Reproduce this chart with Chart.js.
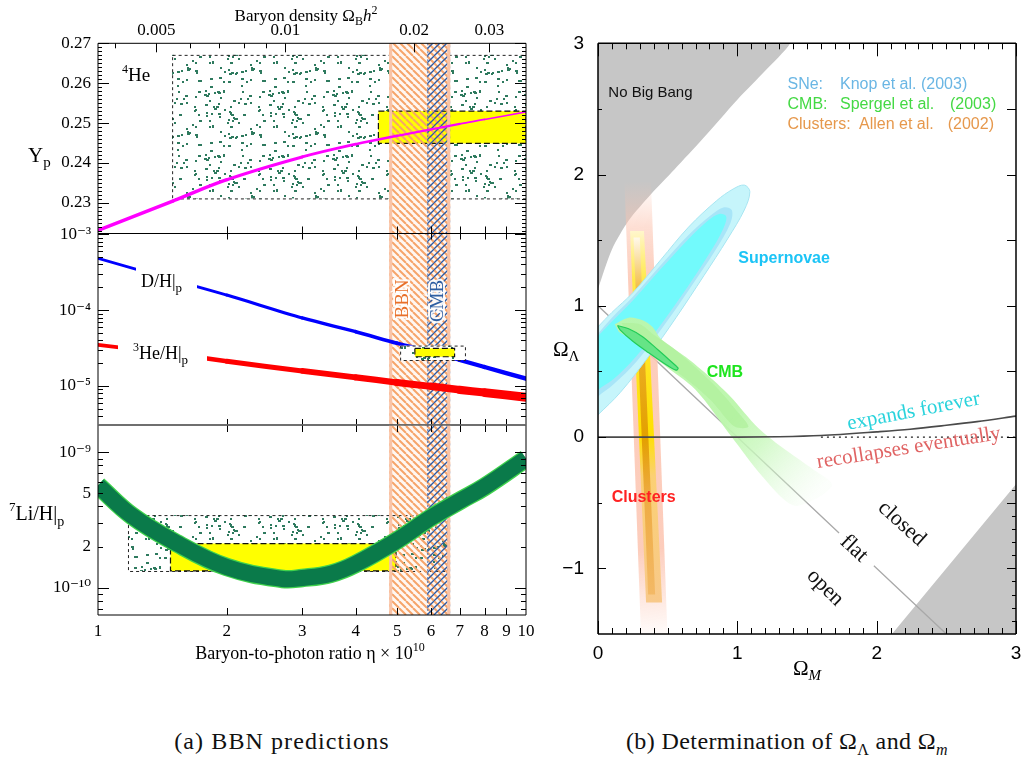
<!DOCTYPE html>
<html>
<head>
<meta charset="utf-8">
<title>BBN predictions and Omega_Lambda / Omega_m</title>
<script src="https://cdn.jsdelivr.net/npm/chart.js@4.4.1/dist/chart.umd.min.js"></script>
<style>
  body { margin: 0; background: #fff; }
  #page { position: relative; width: 1021px; height: 765px; overflow: hidden; background: #fff; }
  #page canvas { position: absolute; }
  .caption { position: absolute; top: 728px; transform: translateX(-50%); white-space: nowrap;
             font-family: "Liberation Serif", "DejaVu Serif", serif; font-size: 24px; color: #111; }
  .caption sub { font-size: 16px; }
</style>
</head>
<body>
<div id="page">
  <canvas id="heChart" width="540" height="236" style="left:0;top:0"></canvas>
  <canvas id="dhChart" width="540" height="212" style="left:0;top:221px"></canvas>
  <canvas id="liChart" width="540" height="270" style="left:0;top:412px"></canvas>
  <canvas id="omChart" width="481" height="700" style="left:540px;top:0"></canvas>
  <div class="caption" style="left:282px;letter-spacing:1.1px">(a) BBN predictions</div>
  <div class="caption" style="left:787px;letter-spacing:0.4px">(b) Determination of &Omega;<sub>&Lambda;</sub> and &Omega;<sub><i>m</i></sub></div>
</div>
<script>
// ---------- (a) light element abundances vs baryon-to-photon ratio ----------
const etaGrid     = [1, 1.5, 2, 3, 4, 5, 6, 7, 8, 10];
const heliumYp    = [0.2231, 0.2305, 0.2358, 0.2415, 0.2447, 0.2468, 0.2484, 0.2498, 0.2509, 0.2528];
const deuteriumDH = [4.83e-4, 2.5e-4, 1.58e-4, 7.9e-5, 5.2e-5, 3.66e-5, 2.83e-5, 2.2e-5, 1.78e-5, 1.25e-5];
const helium3H    = [3.49e-5, 2.65e-5, 2.12e-5, 1.58e-5, 1.3e-5, 1.11e-5, 9.9e-6, 8.9e-6, 8.2e-6, 7.1e-6];
const lithiumEta  = [1, 1.2, 1.5, 2, 2.7, 3, 3.5, 4, 5, 6, 7, 8, 10];
const lithium7H   = [5.7e-10, 3.4e-10, 2.2e-10, 1.42e-10, 1.16e-10, 1.18e-10, 1.27e-10, 1.5e-10, 2.24e-10, 3.3e-10, 4.38e-10, 5.56e-10, 9.0e-10];

const bbnBand = [4.79, 6.65];
const cmbBand = [5.88, 6.65];

// observed ranges (eta range, abundance range)
const heObsEta  = [1.49, 10],   heObsY  = [0.2311, 0.2671];
const heBestEta = [4.52, 10],   heBestY = [0.2449, 0.2530];
const dhObsEta  = [5.08, 7.2],  dhObsY  = [2.2e-5, 3.41e-5];
const dhBestEta = [5.5, 6.81],  dhBestY = [2.43e-5, 3.14e-5];
const liObsEta  = [1.175, 6.55], liObsY  = [1.33e-10, 3.44e-10];
const liBestEta = [1.477, 4.97], liBestY = [1.33e-10, 2.12e-10];

const etaTicks    = [1, 2, 3, 4, 5, 6, 7, 8, 9, 10];
const omegaBTicks = [0.005, 0.01, 0.02, 0.03];
const omegaBMinor = [0.004, 0.006, 0.007, 0.008, 0.009];
const ETA_PER_OMEGA_B = 273.9;   // eta_10 = 273.9 * Omega_B h^2
const ypTicks  = [0.23, 0.24, 0.25, 0.26, 0.27];
const dhTicks  = [1e-3, 1e-4, 1e-5];
const liTicks  = [1e-9, 5e-10, 2e-10, 1e-10];

// ---------- (b) Omega_M - Omega_Lambda plane ----------
const noBigBangM  = [0, 0.1, 0.22, 0.38, 0.55, 0.75, 1.0, 1.2, 1.38];
const noBigBangL  = [1.13, 1.43, 1.65, 1.85, 2.04, 2.27, 2.57, 2.79, 3.0];
const recollapseM = [2.11, 3.0];
const recollapseL = [-1.5, -0.36];
const flatM       = [0, 1.73, 1.85, 1.98, 2.5];
const flatL       = [1, -0.73, null, -0.98, -1.5];
const expandM     = [0, 1, 1.3, 1.6, 2, 2.24, 2.5, 2.72, 3];
const expandL     = [0, 0, 0.003, 0.012, 0.04, 0.06, 0.09, 0.118, 0.16];
const dottedZeroM = [1.6, 3];
const dottedZeroL = [0, 0];

const sneOuter = [[-0.25,0.5],[-0.05,0.78],[0,0.84],[0.1,0.95],[0.25,1.10],[0.45,1.35],[0.65,1.60],[0.85,1.80],[0.97,1.89],[1.05,1.92],[1.09,1.87],[1.05,1.73],[0.93,1.51],[0.76,1.23],[0.56,0.91],[0.36,0.61],[0.16,0.34],[0.0,0.17],[-0.15,0.02],[-0.3,0.1]];
const sneMid   = [[-0.25,0.5],[-0.05,0.74],[0,0.79],[0.1,0.91],[0.25,1.07],[0.45,1.31],[0.65,1.54],[0.81,1.69],[0.9,1.75],[0.96,1.73],[0.95,1.63],[0.84,1.42],[0.67,1.15],[0.48,0.86],[0.28,0.58],[0.11,0.40],[0.0,0.31],[-0.15,0.17],[-0.3,0.2]];
const sneInner = [[-0.25,0.5],[-0.05,0.72],[0,0.77],[0.1,0.88],[0.25,1.04],[0.45,1.28],[0.65,1.51],[0.79,1.65],[0.87,1.70],[0.92,1.68],[0.90,1.59],[0.80,1.40],[0.64,1.14],[0.46,0.87],[0.27,0.61],[0.11,0.44],[0.0,0.36],[-0.15,0.22],[-0.3,0.25]];
const cmbOuter = [[0.12,0.86],[0.22,0.91],[0.32,0.89],[0.39,0.84],[0.45,0.75],[0.63,0.61],[0.80,0.46],[0.95,0.31],[1.15,0.07],[1.35,-0.10],[1.55,-0.25],[1.68,-0.36],[1.58,-0.46],[1.40,-0.52],[1.18,-0.30],[0.96,0.0],[0.70,0.36],[0.46,0.56],[0.29,0.71],[0.15,0.80]];
const cmbMid   = [[0.17,0.87],[0.3,0.86],[0.4,0.78],[0.55,0.67],[0.7,0.53],[0.85,0.38],[0.98,0.22],[1.08,0.08],[0.98,0.08],[0.82,0.27],[0.66,0.42],[0.5,0.55],[0.33,0.69],[0.2,0.80]];
const cmbCore  = [[0.14,0.85],[0.22,0.825],[0.32,0.765],[0.43,0.665],[0.52,0.58],[0.575,0.525],[0.56,0.51],[0.47,0.565],[0.36,0.645],[0.25,0.73],[0.16,0.815],[0.14,0.85]];
const clusterOuter = [[0.19,1.95],[0.38,1.95],[0.50,-1.55],[0.31,-1.55]];
const clusterMid   = [[0.23,1.57],[0.33,1.57],[0.46,-1.26],[0.345,-1.26]];
const clusterCore  = [[0.255,1.52],[0.30,1.52],[0.41,-1.2],[0.36,-1.2]];

const SERIF = '"Liberation Serif", "DejaVu Serif", serif';
const SANS  = '"Liberation Sans", Arial, sans-serif';

const pts   = (xs, ys) => xs.map((x, i) => ({ x, y: ys[i] }));
const pairs = list => list.map(([x, y]) => ({ x, y }));

// ---- textures for the hatched bands and the dotted observation boxes
function stripeTile(color, width, step, rising) {
  const c = document.createElement('canvas');
  c.width = c.height = step;
  const g = c.getContext('2d');
  g.strokeStyle = color; g.lineWidth = width;
  for (let k = -1; k <= 1; k++) {
    g.beginPath();
    if (rising) { g.moveTo(k * step, step); g.lineTo(k * step + step, 0); }
    else { g.moveTo(k * step, 0); g.lineTo(k * step + step, step); }
    g.stroke();
  }
  return c;
}
function dotTile() {
  const c = document.createElement('canvas');
  c.width = c.height = 64;
  const g = c.getContext('2d');
  g.fillStyle = '#2e7a5e';
  let s = 4711;
  const next = () => (s = (s * 16807) % 2147483647) / 2147483647;
  for (let i = 0; i < 85; i++) {
    const x = Math.floor(next() * 63), y = Math.floor(next() * 63);
    g.fillRect(x, y, next() < 0.3 ? 3 : 2, 2);
  }
  return c;
}
const TEX = {
  orange: stripeTile('#f6a46a', 2, 7, false),
  blue: stripeTile('#2c5ba5', 1.3, 7, true),
  dots: dotTile()
};

// text with sub/superscripts, parts drawn one after another
function richText(ctx, x, y, parts, align = 'left') {
  ctx.save();
  ctx.textBaseline = 'alphabetic';
  ctx.textAlign = 'left';
  let w = 0;
  const items = parts.map(p => {
    const font = (p.italic ? 'italic ' : '') + (p.bold ? 'bold ' : '') + p.size + 'px ' + (p.family || SERIF);
    ctx.font = font;
    const m = ctx.measureText(p.t).width;
    w += m;
    return Object.assign({}, p, { font, m });
  });
  let cx = align === 'center' ? x - w / 2 : align === 'right' ? x - w : x;
  const x0 = cx;
  items.forEach(it => {
    ctx.font = it.font;
    ctx.fillStyle = it.color || '#000';
    ctx.fillText(it.t, cx, y + (it.dy || 0));
    cx += it.m;
  });
  ctx.restore();
  return { x: x0, w };
}
// page coordinates -> canvas coordinates
function local(chart, x, y) {
  return [x - chart.canvas.offsetLeft, y - chart.canvas.offsetTop];
}

function fixedAxis(size) {
  return s => {
    if (s.isHorizontal()) s.height = size; else s.width = size;
    s.paddingLeft = s.paddingRight = s.paddingTop = s.paddingBottom = 0;
  };
}
const tickSet = values => s => { s.ticks = values.map(v => ({ value: v })); };

const SUP = { '0': '\u2070', '1': '\u00b9', '2': '\u00b2', '3': '\u00b3', '4': '\u2074', '5': '\u2075', '6': '\u2076', '7': '\u2077', '8': '\u2078', '9': '\u2079', '-': '\u207b' };
function powLabel(v) {
  const e = Math.floor(Math.log10(v) + 1e-9);
  const m = Math.round(v / Math.pow(10, e));
  if (m === 1) return '10' + String(e).split('').map(ch => SUP[ch]).join('');
  return String(m);
}
function logMinors(lo, hi) {
  const out = [];
  for (let e = Math.floor(Math.log10(lo)); e <= Math.ceil(Math.log10(hi)); e++) {
    for (let m = 2; m <= 9; m++) {
      const v = m * Math.pow(10, e);
      if (v > lo && v < hi) out.push(v);
    }
  }
  return out;
}

// inward tick marks plus the frame, drawn over the data
function framePlugin(name, marks, edges) {
  return {
    id: 'frame_' + name,
    afterDatasetsDraw(chart) {
      const { ctx, chartArea: a } = chart;
      ctx.save();
      ctx.lineWidth = 1;
      ctx.strokeStyle = '#000';
      marks.forEach(m => {
        const sc = chart.scales[m.scale];
        m.values.forEach(v => {
          const p = Math.round(sc.getPixelForValue(v)) + 0.5;
          m.sides.forEach(side => {
            ctx.beginPath();
            if (side === 'left') { ctx.moveTo(a.left, p); ctx.lineTo(a.left + m.len, p); }
            if (side === 'right') { ctx.moveTo(a.right, p); ctx.lineTo(a.right - m.len, p); }
            if (side === 'top') { ctx.moveTo(p, a.top); ctx.lineTo(p, a.top + m.len); }
            if (side === 'bottom') { ctx.moveTo(p, a.bottom); ctx.lineTo(p, a.bottom - m.len); }
            ctx.stroke();
          });
        });
      });
      edges.forEach(e => {
        ctx.strokeStyle = e.color;
        ctx.lineWidth = e.width;
        ctx.beginPath();
        if (e.side === 'top') { ctx.moveTo(a.left, a.top); ctx.lineTo(a.right, a.top); }
        if (e.side === 'bottom') { ctx.moveTo(a.left, a.bottom); ctx.lineTo(a.right, a.bottom); }
        if (e.side === 'left') { ctx.moveTo(a.left, a.top); ctx.lineTo(a.left, a.bottom); }
        if (e.side === 'right') { ctx.moveTo(a.right, a.top); ctx.lineTo(a.right, a.bottom); }
        ctx.stroke();
      });
      ctx.restore();
    }
  };
}

// ---- BBN panel helpers
function boxPx(chart, xs, ys) {
  const sx = chart.scales.x, sy = chart.scales.y;
  const x0 = sx.getPixelForValue(xs[0]), x1 = sx.getPixelForValue(xs[1]);
  const y0 = sy.getPixelForValue(ys[1]), y1 = sy.getPixelForValue(ys[0]);
  return { x: x0, y: y0, w: x1 - x0, h: y1 - y0 };
}
function clipArea(chart) {
  const a = chart.chartArea;
  chart.ctx.beginPath();
  chart.ctx.rect(a.left, a.top, a.right - a.left, a.bottom - a.top);
  chart.ctx.clip();
}
function drawDotBox(chart, xs, ys, opaque) {
  const ctx = chart.ctx, r = boxPx(chart, xs, ys);
  ctx.save();
  clipArea(chart);
  if (opaque) { ctx.fillStyle = '#fff'; ctx.fillRect(r.x, r.y, r.w, r.h); }
  ctx.fillStyle = ctx.createPattern(TEX.dots, 'repeat');
  ctx.fillRect(r.x, r.y, r.w, r.h);
  ctx.setLineDash([3, 3]);
  ctx.strokeStyle = '#222';
  ctx.lineWidth = 1;
  ctx.strokeRect(r.x + 0.5, r.y + 0.5, r.w, r.h);
  ctx.restore();
}
function drawYellowBox(chart, xs, ys) {
  const ctx = chart.ctx, r = boxPx(chart, xs, ys);
  ctx.save();
  clipArea(chart);
  ctx.fillStyle = '#ffff00';
  ctx.fillRect(r.x, r.y, r.w, r.h);
  ctx.setLineDash([6, 3]);
  ctx.strokeStyle = '#111';
  ctx.lineWidth = 1.2;
  ctx.strokeRect(r.x, r.y, r.w, r.h);
  ctx.restore();
}
function bandEdges(chart, range) {
  const sx = chart.scales.x;
  return [sx.getPixelForValue(range[0]), sx.getPixelForValue(range[1])];
}
function drawBandBg(chart) {
  const { ctx, chartArea: a } = chart;
  const [b0, b1] = bandEdges(chart, bbnBand);
  ctx.save();
  ctx.fillStyle = '#fff7f2';
  ctx.fillRect(b0, a.top, b1 - b0, a.bottom - a.top);
  ctx.restore();
}
function drawBandStripes(chart) {
  const { ctx, chartArea: a } = chart;
  const [b0, b1] = bandEdges(chart, bbnBand);
  const [c0, c1] = bandEdges(chart, cmbBand);
  const h = a.bottom - a.top;
  ctx.save();
  clipArea(chart);
  ctx.fillStyle = ctx.createPattern(TEX.orange, 'repeat');
  ctx.fillRect(b0, a.top, b1 - b0, h);
  ctx.fillStyle = ctx.createPattern(TEX.blue, 'repeat');
  ctx.fillRect(c0, a.top, c1 - c0, h);
  ctx.strokeStyle = '#f9c3a6';
  ctx.lineWidth = 3;
  [b0 + 1.5, b1 - 1.5].forEach(x => {
    ctx.beginPath(); ctx.moveTo(x, a.top); ctx.lineTo(x, a.bottom); ctx.stroke();
  });
  ctx.strokeStyle = '#4a70b0';
  ctx.lineWidth = 1;
  ctx.setLineDash([2, 2]);
  ctx.beginPath(); ctx.moveTo(c0 + 0.5, a.top); ctx.lineTo(c0 + 0.5, a.bottom); ctx.stroke();
  ctx.restore();
}

const baseOptions = (padding, scales) => ({
  responsive: false,
  animation: false,
  devicePixelRatio: 1,
  events: [],
  layout: { padding },
  plugins: { legend: { display: false }, tooltip: { enabled: false } },
  scales
});
const etaAxis = extra => Object.assign({
  type: 'logarithmic', min: 1, max: 10, bounds: 'data', display: false
}, extra);
const leftTickFont = { family: SERIF, size: 17 };

// ---------------- Y_p panel ----------------
const heMinor = [];
for (let k = 223; k < 270; k++) if (k % 10) heMinor.push(k / 1000);

new Chart(document.getElementById('heChart'), {
  type: 'scatter',
  data: {
    datasets: [{
      data: pts(etaGrid, heliumYp),
      showLine: true, pointRadius: 0, tension: 0.35,
      borderColor: '#ff00ff', borderWidth: 2, borderCapStyle: 'round',
      segment: { borderWidth: c => 3.6 - 2.0 * c.p0DataIndex / (etaGrid.length - 2) }
    }]
  },
  options: baseOptions({ left: 0, right: 14, top: 0, bottom: 2.5 }, {
    x: etaAxis(),
    xTop: {
      type: 'logarithmic', position: 'top', axis: 'x', bounds: 'data',
      min: 1 / ETA_PER_OMEGA_B, max: 10 / ETA_PER_OMEGA_B,
      grid: { display: false, drawTicks: false }, border: { display: false },
      ticks: { font: leftTickFont, color: '#000', padding: 3, autoSkip: false, maxRotation: 0, callback: v => String(v) },
      afterBuildTicks: tickSet(omegaBTicks),
      afterFit: fixedAxis(43.3)
    },
    y: {
      type: 'linear', position: 'left', min: 0.2223, max: 0.27, bounds: 'data',
      grid: { display: false, drawTicks: false }, border: { display: false },
      ticks: { font: leftTickFont, color: '#000', padding: 7, callback: v => v.toFixed(2) },
      afterBuildTicks: tickSet(ypTicks),
      afterFit: fixedAxis(98)
    }
  }),
  plugins: [{
    id: 'heLayers',
    beforeDatasetsDraw(chart) {
      drawDotBox(chart, heObsEta, heObsY, false);
      drawBandBg(chart);
      drawYellowBox(chart, heBestEta, heBestY);
      drawBandStripes(chart);
    },
    afterDatasetsDraw(chart) {
      const ctx = chart.ctx;
      richText(ctx, 306, 21, [{ t: 'Baryon density \u03a9', size: 17 }, { t: 'B', size: 12, dy: 4 }, { t: 'h', size: 17, italic: true }, { t: '2', size: 12, dy: -7 }], 'center');
      richText(ctx, 122, 81, [{ t: '4', size: 12, dy: -8 }, { t: 'He', size: 19 }]);
      richText(ctx, 28, 162, [{ t: 'Y', size: 21 }, { t: 'p', size: 15, dy: 5 }]);
    }
  }, framePlugin('he', [
    { scale: 'y', values: ypTicks, sides: ['left', 'right'], len: 11 },
    { scale: 'y', values: heMinor, sides: ['left', 'right'], len: 4 },
    { scale: 'xTop', values: omegaBTicks, sides: ['top'], len: 9 },
    { scale: 'xTop', values: omegaBMinor, sides: ['top'], len: 5 },
    { scale: 'x', values: etaTicks.slice(1, -1), sides: ['bottom'], len: 7 }
  ], [
    { side: 'top', color: '#000', width: 1 }, { side: 'left', color: '#000', width: 1 },
    { side: 'right', color: '#000', width: 1 }, { side: 'bottom', color: '#000', width: 1 }
  ])]
});

// ---------------- D/H and 3He/H panel ----------------
const dhMin = 3.06e-6, dhMax = 1.025e-3;
new Chart(document.getElementById('dhChart'), {
  type: 'scatter',
  data: {
    datasets: [{
      data: pts(etaGrid, deuteriumDH),
      showLine: true, pointRadius: 0, tension: 0.3,
      borderColor: '#0000ff', borderWidth: 3, borderCapStyle: 'round',
      segment: { borderWidth: c => 2.8 + 1.6 * c.p0DataIndex / (etaGrid.length - 2) }
    }, {
      data: pts(etaGrid, helium3H),
      showLine: true, pointRadius: 0, tension: 0.3,
      borderColor: '#ff0000', borderWidth: 4, borderCapStyle: 'round',
      segment: { borderWidth: c => 3.8 + 5.0 * c.p0DataIndex / (etaGrid.length - 2) }
    }]
  },
  options: baseOptions({ left: 0, right: 14, top: 12.5, bottom: 8 }, {
    x: etaAxis(),
    y: {
      type: 'logarithmic', position: 'left', min: dhMin, max: dhMax, bounds: 'data',
      grid: { display: false, drawTicks: false }, border: { display: false },
      ticks: { font: leftTickFont, color: '#000', padding: 7, autoSkip: false, callback: v => powLabel(v) },
      afterBuildTicks: tickSet(dhTicks),
      afterFit: fixedAxis(98)
    }
  }),
  plugins: [{
    id: 'dhLayers',
    beforeDatasetsDraw(chart) {
      drawBandBg(chart);
      drawBandStripes(chart);
    },
    afterDatasetsDraw(chart) {
      const ctx = chart.ctx;
      // labels sit in gaps of the curves
      ctx.save();
      ctx.fillStyle = '#fff';
      let [x, y] = local(chart, 136, 262);
      ctx.fillRect(x, y, 61, 32);
      [x, y] = local(chart, 118, 336);
      ctx.fillRect(x, y, 89, 34);
      ctx.restore();
      [x, y] = local(chart, 141, 287);
      richText(ctx, x, y, [{ t: 'D/H|', size: 18 }, { t: 'p', size: 13, dy: 5 }]);
      [x, y] = local(chart, 133, 359);
      richText(ctx, x, y, [{ t: '3', size: 12, dy: -8 }, { t: 'He/H|', size: 18 }, { t: 'p', size: 13, dy: 5 }]);

      drawDotBox(chart, dhObsEta, dhObsY, true);
      drawYellowBox(chart, dhBestEta, dhBestY);

      [['BBN', 403, 299, '#e8702a'], ['CMB', 438, 301, '#2d5ea2']].forEach(([t, px, py, col]) => {
        const [lx, ly] = local(chart, px, py);
        ctx.save();
        ctx.translate(lx, ly);
        ctx.rotate(-Math.PI / 2);
        ctx.font = '19px ' + SERIF;
        ctx.textAlign = 'center';
        ctx.textBaseline = 'middle';
        ctx.lineWidth = 4;
        ctx.strokeStyle = 'rgba(255,255,255,0.9)';
        ctx.strokeText(t, 0, 0);
        ctx.fillStyle = col;
        ctx.fillText(t, 0, 0);
        ctx.restore();
      });
    }
  }, framePlugin('dh', [
    { scale: 'y', values: dhTicks, sides: ['left', 'right'], len: 11 },
    { scale: 'y', values: logMinors(dhMin, dhMax), sides: ['left', 'right'], len: 5 },
    { scale: 'x', values: etaTicks.slice(1, -1), sides: ['top', 'bottom'], len: 6 }
  ], [
    { side: 'left', color: '#000', width: 1 }, { side: 'right', color: '#000', width: 1 },
    { side: 'top', color: '#000', width: 1 }, { side: 'bottom', color: '#666', width: 1.6 }
  ])]
});

// ---------------- 7Li/H panel ----------------
const liMin = 6.29e-11, liMax = 1.592e-9;
new Chart(document.getElementById('liChart'), {
  type: 'scatter',
  data: {
    datasets: [{
      data: pts(lithiumEta, lithium7H),
      showLine: true, pointRadius: 0, tension: 0.4,
      borderColor: '#0a7a4a', borderWidth: 16, borderCapStyle: 'butt', borderJoinStyle: 'round'
    }, {
      data: pts(lithiumEta, lithium7H),
      showLine: true, pointRadius: 0, tension: 0.4,
      borderColor: '#3fd24c', borderWidth: 18.5, borderCapStyle: 'butt', borderJoinStyle: 'round'
    }]
  },
  options: baseOptions({ left: 0, right: 14, top: 13, bottom: 0 }, {
    x: etaAxis({
      display: true, position: 'bottom',
      grid: { display: false, drawTicks: false }, border: { display: false },
      ticks: { font: leftTickFont, color: '#000', padding: 6, autoSkip: false, maxRotation: 0, callback: v => String(v) },
      afterBuildTicks: tickSet(etaTicks),
      afterFit: fixedAxis(67)
    }),
    y: {
      type: 'logarithmic', position: 'left', min: liMin, max: liMax, bounds: 'data',
      grid: { display: false, drawTicks: false }, border: { display: false },
      ticks: { font: leftTickFont, color: '#000', padding: 7, autoSkip: false, callback: v => powLabel(v) },
      afterBuildTicks: tickSet(liTicks),
      afterFit: fixedAxis(98)
    }
  }),
  plugins: [{
    id: 'liLayers',
    beforeDatasetsDraw(chart) {
      drawBandBg(chart);
      drawDotBox(chart, liObsEta, liObsY, false);
      drawYellowBox(chart, liBestEta, liBestY);
      drawBandStripes(chart);
    },
    afterDatasetsDraw(chart) {
      const ctx = chart.ctx;
      let [x, y] = local(chart, 9, 520);
      richText(ctx, x, y, [{ t: '7', size: 13, dy: -9 }, { t: 'Li/H|', size: 20 }, { t: 'p', size: 14, dy: 6 }]);
      [x, y] = local(chart, 310, 659);
      richText(ctx, x, y, [{ t: 'Baryon-to-photon ratio \u03b7 \u00d7 10', size: 18 }, { t: '10', size: 12, dy: -8 }], 'center');
    }
  }, framePlugin('li', [
    { scale: 'y', values: [1e-9, 1e-10], sides: ['left', 'right'], len: 11 },
    { scale: 'y', values: logMinors(liMin, liMax), sides: ['left', 'right'], len: 5 },
    { scale: 'x', values: etaTicks.slice(1, -1), sides: ['top', 'bottom'], len: 7 }
  ], [
    { side: 'left', color: '#000', width: 1 }, { side: 'right', color: '#000', width: 1 },
    { side: 'top', color: '#666', width: 1.6 }, { side: 'bottom', color: '#000', width: 1 }
  ])]
});

// ---------------- (b) Omega_M vs Omega_Lambda ----------------
function gradient(chart, p0, p1, stops) {
  const { ctx, chartArea, scales } = chart;
  if (!chartArea) return stops[0][1];
  const g = ctx.createLinearGradient(
    scales.x.getPixelForValue(p0[0]), scales.y.getPixelForValue(p0[1]),
    scales.x.getPixelForValue(p1[0]), scales.y.getPixelForValue(p1[1]));
  stops.forEach(([t, c]) => g.addColorStop(t, c));
  return g;
}
const region = (data, color, extra) => Object.assign({
  data, showLine: true, fill: 'shape', backgroundColor: color,
  borderColor: 'rgba(0,0,0,0)', borderWidth: 0, pointRadius: 0, tension: 0.35, clip: 0
}, extra || {});
const curve = (data, color, width, extra) => Object.assign({
  data, showLine: true, fill: false, borderColor: color, borderWidth: width,
  pointRadius: 0, tension: 0, clip: 0
}, extra || {});

const omLayers = [
  region(pts(noBigBangM, noBigBangL).concat(pairs([[1.5, 3.3], [-0.3, 3.3], [-0.3, 0.9]])), '#c6c6c6', { tension: 0.25 }),
  region(pts(recollapseM, recollapseL).concat(pairs([[3.2, -0.36], [3.2, -1.7], [2.11, -1.7]])), '#c6c6c6', { tension: 0 }),
  curve(pts(flatM, flatL), '#a9a9a9', 1.3),
  region(pairs(clusterOuter), c => gradient(c.chart, [0.3, 1.95], [0.4, -1.55], [
    [0, 'rgba(252,196,176,0)'], [0.1, 'rgba(252,196,176,0.55)'], [0.22, 'rgba(252,196,176,0.85)'],
    [0.8, 'rgba(252,196,176,0.85)'], [1, 'rgba(252,196,176,0)']]), { tension: 0 }),
  region(pairs(clusterMid), c => gradient(c.chart, [0.28, 1.57], [0.4, -1.26], [
    [0, '#fff6cc'], [0.13, '#ffe94a'], [0.55, '#ffe000'], [0.66, '#fbd074'], [1, '#f8c98a']]), { tension: 0 }),
  region(pairs(clusterCore), c => gradient(c.chart, [0.28, 1.52], [0.38, -1.2], [
    [0, '#fff9ea'], [0.15, '#f2b93c'], [0.56, '#e3a000'], [0.72, '#eeab42'], [1, '#f3b966']]), { tension: 0 }),
  region(pairs(sneOuter), '#c6f5fb', { borderColor: '#a9e6f2', borderWidth: 1 }),
  region(pairs(sneMid), '#a8e5f8'),
  region(pairs(sneInner), '#72fafc'),
  region(pairs(cmbOuter), c => gradient(c.chart, [0.95, 0.15], [1.55, -0.45], [
    [0, 'rgba(188,246,172,0.97)'], [0.35, 'rgba(200,248,188,0.8)'], [1, 'rgba(225,250,220,0.1)']]), { tension: 0.3 }),
  region(pairs(cmbMid), 'rgba(176,240,156,0.75)', { tension: 0.3 }),
  region(pairs(cmbCore), '#66e486', { borderColor: '#22cc58', borderWidth: 1.2, tension: 0.3 }),
  curve(pts(dottedZeroM, dottedZeroL), '#222', 1.3, { borderDash: [2, 4] }),
  curve(pts(expandM, expandL), '#4a4a4a', 1.6, { cubicInterpolationMode: 'monotone' })
];
omLayers.forEach((d, i) => { d.order = omLayers.length - i; });

const omMinorX = [];
for (let k = 1; k < 30; k++) if (k % 10) omMinorX.push(k / 10);
const omRightMinor = [];
for (let k = -14; k <= -4; k++) if (k !== -10 && k !== -5) omRightMinor.push(k / 10);

const sansTick = { family: SANS, size: 19 };
const signed = v => (v < 0 ? '\u2212' : '') + Math.abs(v);

new Chart(document.getElementById('omChart'), {
  type: 'scatter',
  data: { datasets: omLayers },
  options: baseOptions({ left: 0, right: 5, top: 43.3, bottom: 0 }, {
    x: {
      type: 'linear', position: 'bottom', min: 0, max: 3, bounds: 'data',
      grid: { display: false, drawTicks: false }, border: { display: false },
      ticks: { font: sansTick, color: '#000', padding: 8, autoSkip: false, maxRotation: 0, callback: signed },
      afterBuildTicks: tickSet([0, 1, 2, 3]),
      afterFit: fixedAxis(66)
    },
    y: {
      type: 'linear', position: 'left', min: -1.5, max: 3, bounds: 'data',
      grid: { display: false, drawTicks: false }, border: { display: false },
      ticks: { font: sansTick, color: '#000', padding: 14, autoSkip: false, callback: signed },
      afterBuildTicks: tickSet([-1, 0, 1, 2, 3]),
      afterFit: fixedAxis(58)
    }
  }),
  plugins: [framePlugin('om', [
    { scale: 'x', values: [0, 1, 2, 3], sides: ['top', 'bottom'], len: 13 },
    { scale: 'x', values: omMinorX, sides: ['top', 'bottom'], len: 6 },
    { scale: 'y', values: [-1, 0, 1, 2, 3], sides: ['left'], len: 8 },
    { scale: 'y', values: [-0.5, 0.5, 1.5, 2.5], sides: ['left'], len: 4 },
    { scale: 'y', values: [-1, -0.5, 0, 0.5, 1, 1.5, 2, 2.5], sides: ['right'], len: 9 },
    { scale: 'y', values: omRightMinor, sides: ['right'], len: 4 }
  ], [
    { side: 'top', color: '#000', width: 1.5 }, { side: 'bottom', color: '#000', width: 1.5 },
    { side: 'left', color: '#000', width: 1.5 }, { side: 'right', color: '#000', width: 1.5 }
  ]), {
    id: 'omLabels',
    afterDatasetsDraw(chart) {
      const { ctx, scales: { x, y }, chartArea: a } = chart;
      const at = (m, l) => [x.getPixelForValue(m), y.getPixelForValue(l)];
      const put = (text, m, l, font, color, align = 'left') => {
        const [px, py] = at(m, l);
        ctx.save();
        ctx.font = font; ctx.fillStyle = color;
        ctx.textAlign = align; ctx.textBaseline = 'middle';
        ctx.fillText(text, px, py);
        ctx.restore();
      };
      const turn = (text, m, l, deg, font, color) => {
        const [px, py] = at(m, l);
        ctx.save();
        ctx.translate(px, py);
        ctx.rotate(deg * Math.PI / 180);
        ctx.font = font; ctx.fillStyle = color;
        ctx.textAlign = 'center'; ctx.textBaseline = 'middle';
        ctx.fillText(text, 0, 0);
        ctx.restore();
      };
      put('No Big Bang', 0.074, 2.62, '15px ' + SANS, '#111');

      const leg = '16px ' + SANS;
      put('SNe:', 1.36, 2.683, leg, '#6ab6e4');
      put('Knop et al. (2003)', 1.737, 2.683, leg, '#6ab6e4');
      put('CMB:', 1.36, 2.531, leg, '#44d944');
      put('Spergel et al.', 1.737, 2.531, leg, '#44d944');
      put('(2003)', 2.526, 2.531, leg, '#44d944');
      put('Clusters:', 1.36, 2.383, leg, '#e6984c');
      put('Allen et al.', 1.873, 2.383, leg, '#e6984c');
      put('(2002)', 2.51, 2.383, leg, '#e6984c');

      put('Supernovae', 1.007, 1.363, 'bold 16px ' + SANS, '#1cc4f6');
      put('CMB', 0.78, 0.492, 'bold 16px ' + SANS, '#1ee41e');
      put('Clusters', 0.098, -0.464, 'bold 16px ' + SANS, '#ff2222');

      turn('expands forever', 2.265, 0.195, -11, '21px ' + SERIF, '#2ad3dc');
      turn('recollapses eventually', 2.23, -0.084, -9, '21px ' + SERIF, '#e06464');
      turn('closed', 2.18, -0.66, 42, '22px ' + SERIF, '#111');
      turn('flat', 1.837, -0.85, 43, '22px ' + SERIF, '#111');
      turn('open', 1.63, -1.147, 45, '22px ' + SERIF, '#111');

      richText(ctx, (a.left + a.right) / 2, 675, [{ t: '\u03a9', size: 21 }, { t: 'M', size: 15, italic: true, dy: 5 }], 'center');
      richText(ctx, 553 - 540, 356, [{ t: '\u03a9', size: 21 }, { t: '\u039b', size: 15, dy: 5 }]);
    }
  }]
});
</script>
</body>
</html>
